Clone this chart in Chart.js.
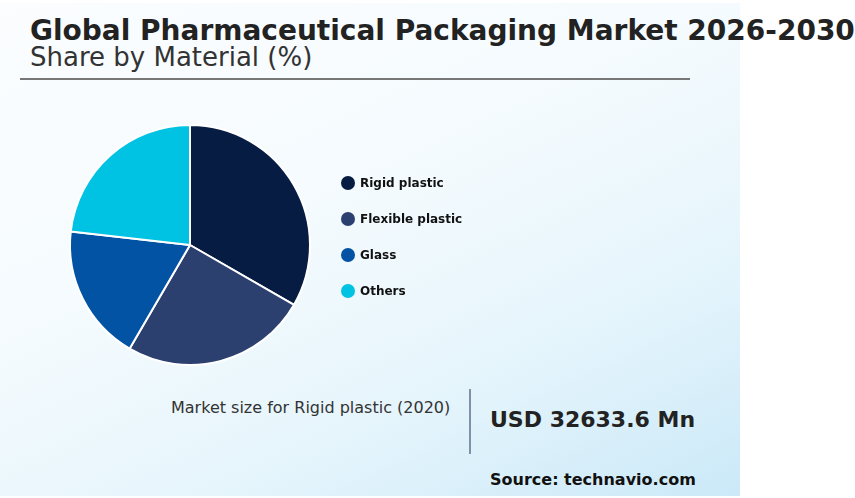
<!DOCTYPE html>
<html>
<head>
<meta charset="utf-8">
<script src="https://cdn.jsdelivr.net/npm/chart.js@4.4.1/dist/chart.umd.min.js"></script>
<style>
  html, body { margin: 0; padding: 0; background: #ffffff; }
  body { width: 855px; height: 498px; position: relative; overflow: hidden; font-family: "DejaVu Sans", sans-serif; }
  #panel {
    position: absolute; left: 0; top: 3px; width: 740px; height: 493px;
    background: linear-gradient(155deg, #fbfdff 0%, #f5fbfe 40%, #e6f5fc 70%, #cbe9f8 100%);
  }
  #chartBox { position: absolute; left: 0; top: 0; width: 855px; height: 498px; }
  .txt { position: absolute; white-space: nowrap; color: #222222; line-height: 1; }
  #title { left: 30px; top: 17px; font-size: 28px; font-weight: bold; }
  #subtitle { left: 30px; top: 44px; font-size: 26px; color: #333333; }
  #rule { position: absolute; left: 20px; top: 78px; width: 670px; height: 2px; background: #777777; }
  #mlabel { left: 171px; top: 400px; font-size: 16px; color: #333333; }
  #vline { position: absolute; left: 469px; top: 389px; width: 2px; height: 65px; background: #8090a6; }
  #mvalue { left: 490px; top: 409px; font-size: 22px; font-weight: bold; }
  #source { left: 490px; top: 472px; font-size: 16px; font-weight: bold; color: #111111; }
</style>
</head>
<body>
<div id="panel"></div>
<div id="title" class="txt">Global Pharmaceutical Packaging Market 2026-2030</div>
<div id="subtitle" class="txt">Share by Material (%)</div>
<div id="rule"></div>
<div id="mlabel" class="txt">Market size for Rigid plastic (2020)</div>
<div id="vline"></div>
<div id="mvalue" class="txt">USD 32633.6 Mn</div>
<div id="source" class="txt">Source: technavio.com</div>
<div id="chartBox"><canvas id="pieChart" width="855" height="498"></canvas></div>

<script>
// data (share in %)
var materials   = ['Rigid plastic', 'Flexible plastic', 'Glass', 'Others'];
var shareValues = [33.3, 25.1, 18.4, 23.2];
var sliceColors = ['#071c42', '#2c4070', '#0353a4', '#00c2e3'];

// legend drawn next to the pie, one dot + bold label per slice
var sideLegend = {
    id: 'sideLegend',
    afterDraw: function(chart) {
        var ctx = chart.ctx;
        var labels = chart.data.labels;
        var colors = chart.data.datasets[0].backgroundColor;
        ctx.save();
        ctx.font = 'bold 12px "DejaVu Sans"';
        ctx.textBaseline = 'middle';
        for (var i = 0; i < labels.length; i++) {
            var y = 183 + i * 36;
            ctx.beginPath();
            ctx.arc(348, y, 7, 0, Math.PI * 2);
            ctx.fillStyle = colors[i];
            ctx.fill();
            ctx.fillStyle = '#111111';
            ctx.fillText(labels[i], 360, y + 0.5);
        }
        ctx.restore();
    }
};

var ctx = document.getElementById('pieChart').getContext('2d');
var pieChart = new Chart(ctx, {
    type: 'pie',
    data: {
        labels: materials,
        datasets: [{
            data: shareValues,
            backgroundColor: sliceColors,
            borderColor: '#ffffff',
            borderWidth: 2,
            hoverOffset: 0,
            offset: 0
        }]
    },
    options: {
        responsive: false,
        animation: false,
        layout: {
            padding: { left: 69, top: 124, right: 544, bottom: 132 }
        },
        plugins: {
            legend: { display: false },
            tooltip: { enabled: false }
        }
    },
    plugins: [sideLegend]
});
</script>
</body>
</html>
